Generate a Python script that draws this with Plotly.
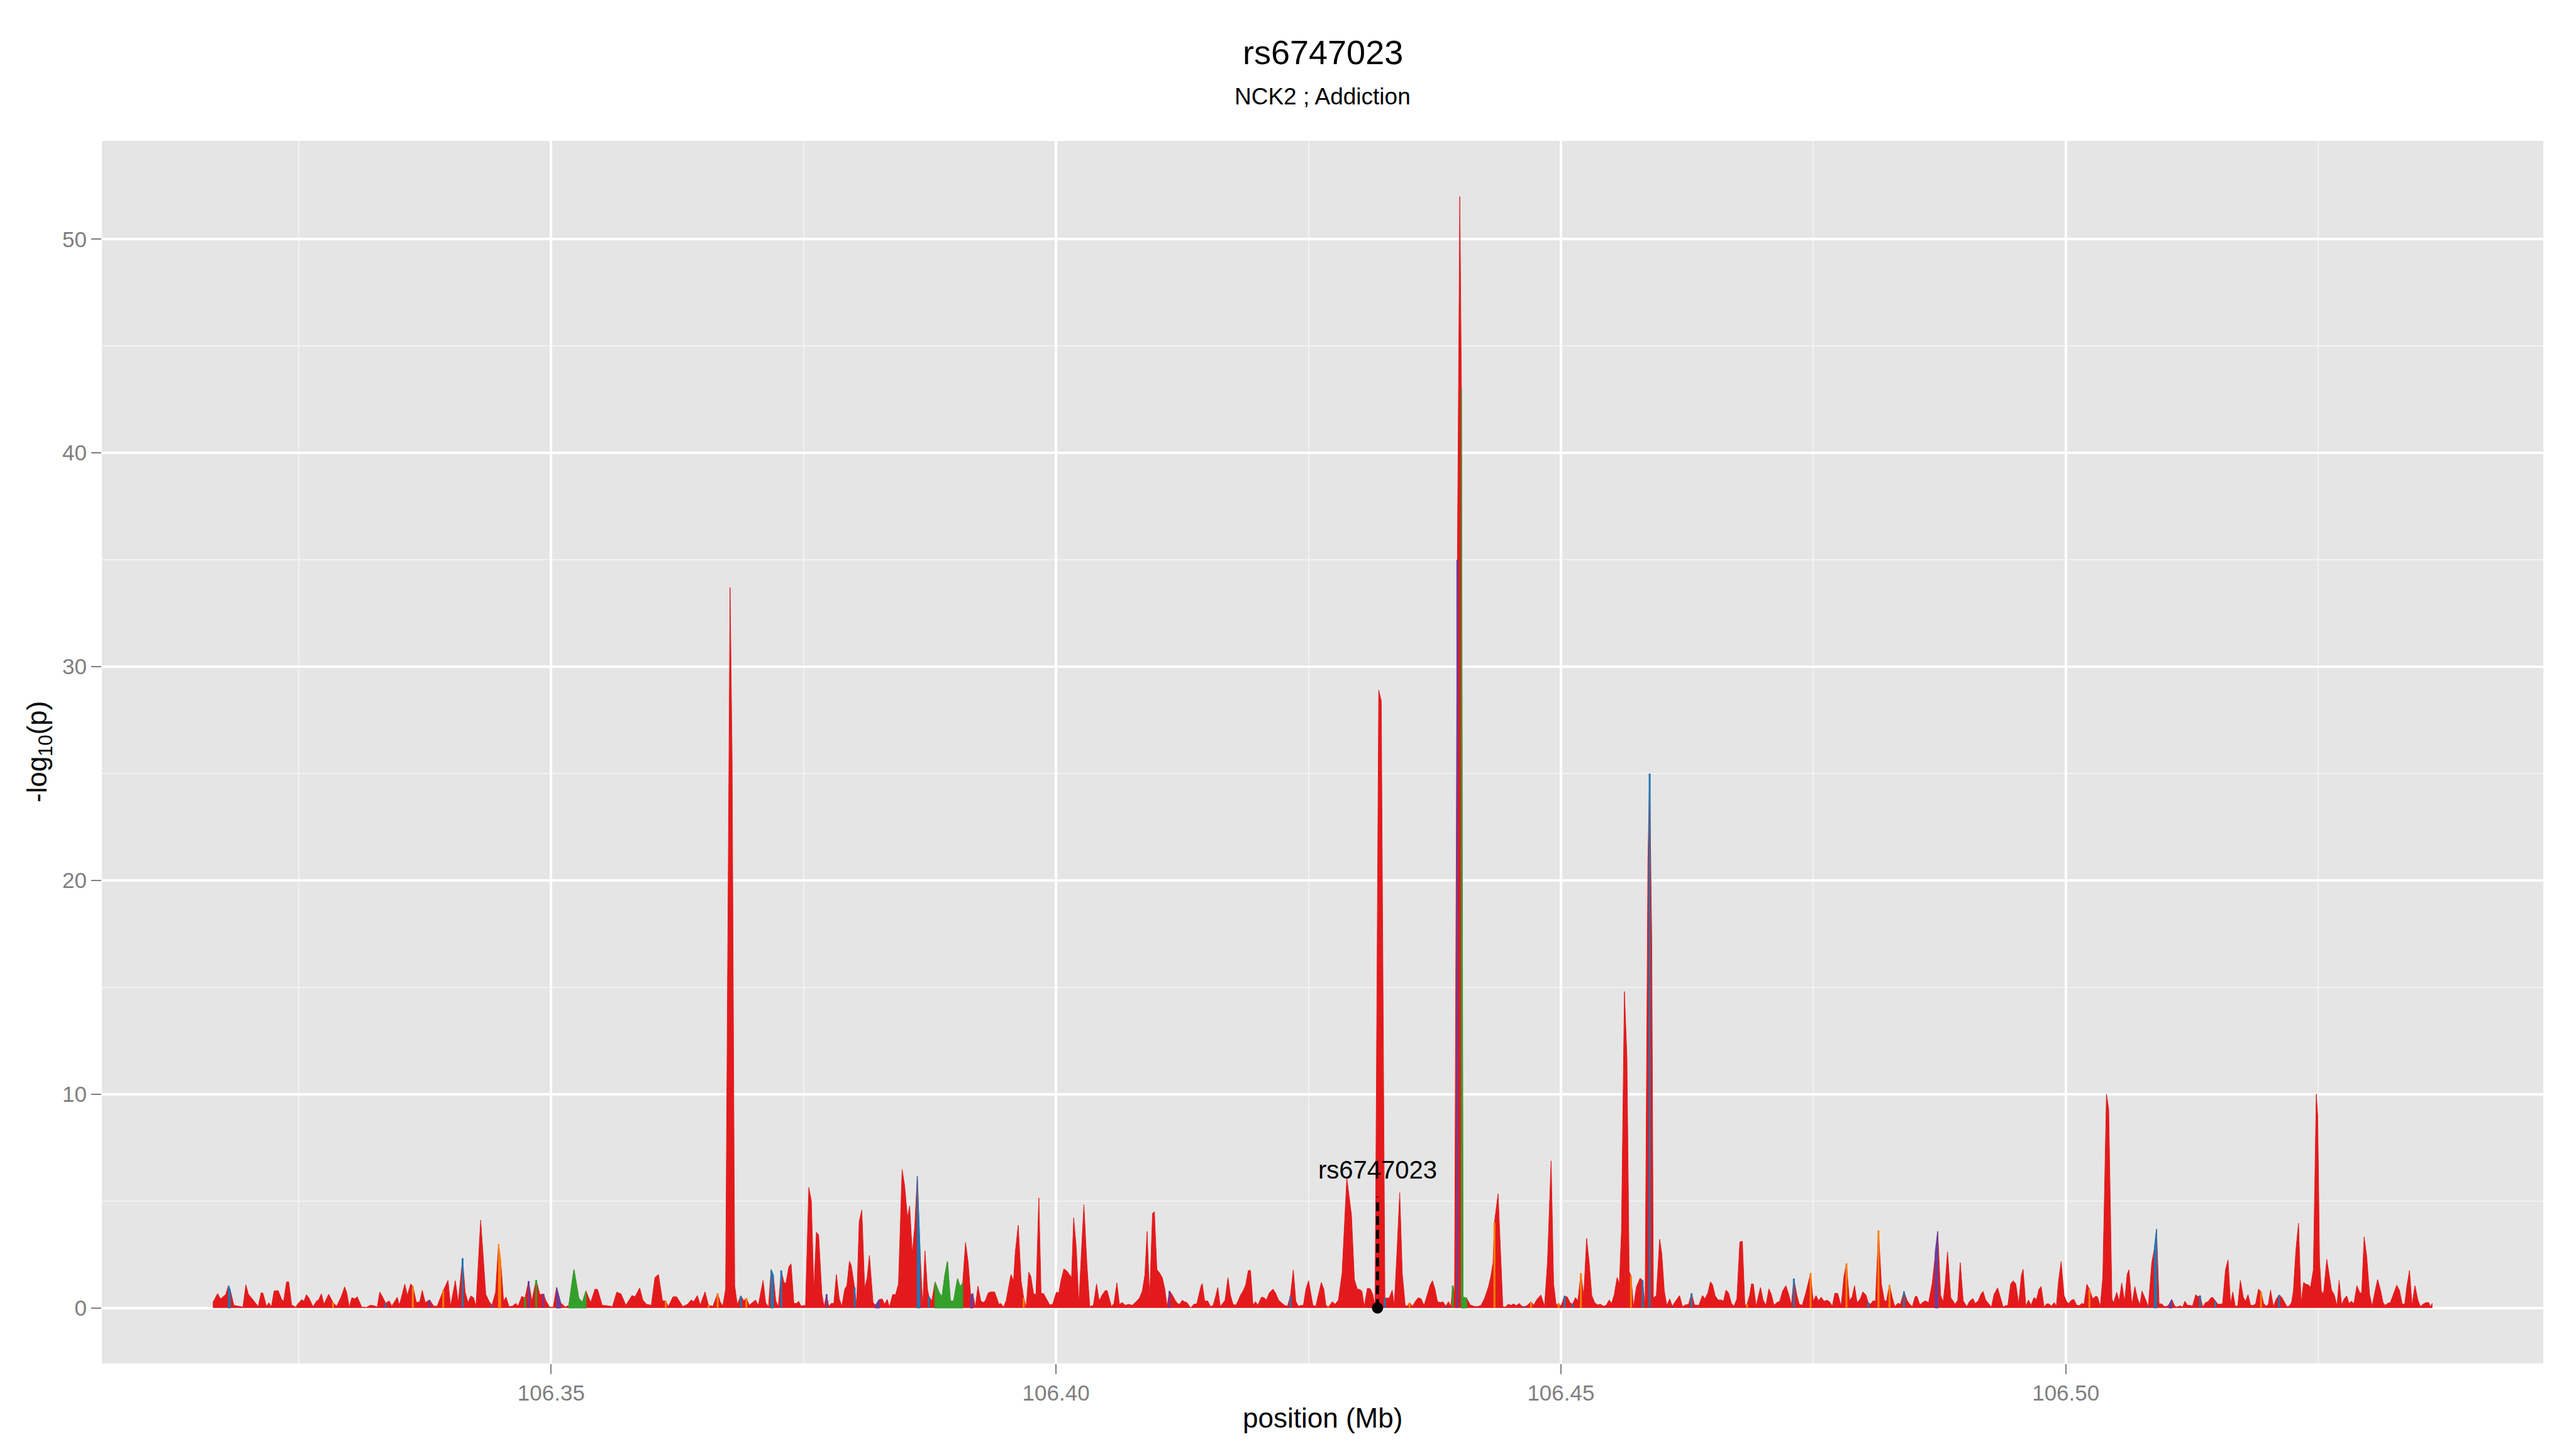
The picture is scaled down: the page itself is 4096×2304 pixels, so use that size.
import plotly.graph_objects as go

# ---------------- data ----------------
position_mb = [
    106.31650, 106.31697, 106.31726, 106.31776, 106.31805, 106.31823, 106.31858, 106.31912, 106.31948, 106.31977,
    106.32002, 106.32049, 106.32099, 106.32128, 106.32146, 106.32182, 106.32204, 106.32229, 106.32257, 106.32297,
    106.32329, 106.32351, 106.32380, 106.32401, 106.32430, 106.32469, 106.32495, 106.32531, 106.32552, 106.32577,
    106.32602, 106.32642, 106.32678, 106.32696, 106.32725, 106.32750, 106.32797, 106.32840, 106.32876, 106.32919,
    106.32955, 106.32976, 106.33001, 106.33027, 106.33055, 106.33080, 106.33124, 106.33170, 106.33206, 106.33249,
    106.33278, 106.33303, 106.33328, 106.33361, 106.33397, 106.33422, 106.33476, 106.33497, 106.33551, 106.33576,
    106.33609, 106.33630, 106.33666, 106.33699, 106.33724, 106.33753, 106.33796, 106.33839, 106.33871, 106.33932,
    106.33979, 106.34004, 106.34051, 106.34080, 106.34123, 106.34148, 106.34177, 106.34205, 106.34231, 106.34256,
    106.34302, 106.34353, 106.34385, 106.34414, 106.34450, 106.34479, 106.34500, 106.34529, 106.34554, 106.34583,
    106.34615, 106.34651, 106.34673, 106.34709, 106.34741, 106.34777, 106.34809, 106.34852, 106.34888, 106.34924,
    106.34949, 106.34985, 106.35021, 106.35054, 106.35093, 106.35140, 106.35176, 106.35226, 106.35273, 106.35309,
    106.35345, 106.35391, 106.35435, 106.35460, 106.35506, 106.35560, 106.35607, 106.35650, 106.35693, 106.35740,
    106.35801, 106.35830, 106.35877, 106.35909, 106.35945, 106.35992, 106.36028, 106.36063, 106.36103, 106.36135,
    106.36160, 106.36207, 106.36243, 106.36304, 106.36351, 106.36387, 106.36412, 106.36448, 106.36477, 106.36524,
    106.36559, 106.36603, 106.36649, 106.36674, 106.36700, 106.36728, 106.36772, 106.36792, 106.36818, 106.36843,
    106.36879, 106.36908, 106.36933, 106.36962, 106.37023, 106.37052,
    106.37099, 106.37124, 106.37153, 106.37178, 106.37200, 106.37225, 106.37250, 106.37279, 106.37304, 106.37325,
    106.37354, 106.37376, 106.37404, 106.37430, 106.37451, 106.37476, 106.37502, 106.37519, 106.37552, 106.37577,
    106.37602, 106.37627, 106.37649, 106.37681, 106.37703, 106.37728, 106.37749, 106.37775, 106.37800, 106.37825,
    106.37854, 106.37879, 106.37908, 106.37929, 106.37954, 106.37972, 106.38005, 106.38026, 106.38051, 106.38077,
    106.38105, 106.38130, 106.38152, 106.38188, 106.38213, 106.38249, 106.38278, 106.38303, 106.38328, 106.38350,
    106.38382, 106.38411, 106.38440, 106.38476, 106.38501, 106.38529, 106.38551, 106.38576, 106.38601, 106.38626,
    106.38652, 106.38680, 106.38702, 106.38727, 106.38741, 106.38770, 106.38802, 106.38842, 106.38871, 106.38900,
    106.38925, 106.38953, 106.38986, 106.39025, 106.39051, 106.39076, 106.39104, 106.39130, 106.39155, 106.39176,
    106.39201, 106.39227, 106.39255, 106.39280, 106.39302, 106.39327, 106.39352, 106.39392, 106.39435, 106.39453,
    106.39482, 106.39507, 106.39554, 106.39579, 106.39597, 106.39626, 106.39654, 106.39680, 106.39705, 106.39730,
    106.39751, 106.39777, 106.39802, 106.39830, 106.39852, 106.39877, 106.39906, 106.39938, 106.39967, 106.40003,
    106.40028, 106.40050, 106.40078, 106.40107, 106.40136, 106.40154, 106.40175, 106.40201, 106.40226, 106.40276,
    106.40305, 106.40334, 106.40370, 106.40402, 106.40427, 106.40459, 106.40488, 106.40506, 106.40549, 106.40574,
    106.40603, 106.40628, 106.40657, 106.40686, 106.40718, 106.40754, 106.40794, 106.40826, 106.40855, 106.40880,
    106.40902, 106.40927, 106.40956, 106.40974, 106.40999, 106.41028, 106.41052, 106.41078, 106.41099, 106.41124,
    106.41150, 106.41178, 106.41203, 106.41225, 106.41250, 106.41272, 106.41297, 106.41333, 106.41365, 106.41394,
    106.41437, 106.41448, 106.41473, 106.41502, 106.41530, 106.41556, 106.41581, 106.41602, 106.41627, 106.41674,
    106.41703, 106.41728, 106.41753, 106.41779, 106.41800, 106.41825, 106.41850, 106.41879, 106.41904, 106.41926,
    106.41951, 106.41976, 106.41998, 106.42034, 106.42059, 106.42084, 106.42113, 106.42149, 106.42177, 106.42203,
    106.42231, 106.42264, 106.42292, 106.42321, 106.42350, 106.42375, 106.42400, 106.42429, 106.42450, 106.42475,
    106.42501, 106.42526, 106.42544, 106.42573, 106.42601, 106.42627, 106.42652, 106.42673, 106.42695,
    106.42711, 106.42736, 106.42765, 106.42797, 106.42833, 106.42880, 106.42926, 106.42955, 106.42984, 106.43013,
    106.43030, 106.43052, 106.43084, 106.43113, 106.43138, 106.43160, 106.43196, 106.43221, 106.43257, 106.43278,
    106.43300, 106.43329, 106.43350, 106.43376, 106.43404, 106.43429, 106.43458, 106.43480, 106.43501, 106.43530,
    106.43562, 106.43588, 106.43616, 106.43645, 106.43677, 106.43706, 106.43728, 106.43753, 106.43778, 106.43807,
    106.43832, 106.43861, 106.43886, 106.43911, 106.43929, 106.43947, 106.43975, 106.43999, 106.44015, 106.44030,
    106.44066, 106.44102, 106.44137, 106.44173, 106.44209, 106.44245, 106.44281, 106.44306, 106.44328, 106.44342,
    106.44378, 106.44400, 106.44425, 106.44450, 106.44479, 106.44508, 106.44533, 106.44558, 106.44587, 106.44612,
    106.44641, 106.44669, 106.44705, 106.44730, 106.44766, 106.44802, 106.44838, 106.44867, 106.44903, 106.44928,
    106.44953, 106.44978, 106.45000, 106.45036, 106.45065, 106.45090, 106.45115, 106.45144, 106.45169, 106.45198,
    106.45226, 106.45255, 106.45280, 106.45306, 106.45334, 106.45363, 106.45392, 106.45420, 106.45449, 106.45478,
    106.45503, 106.45528, 106.45557, 106.45579, 106.45600, 106.45629, 106.45654, 106.45676, 106.45694, 106.45719,
    106.45748, 106.45784, 106.45809, 106.45834, 106.45862, 106.45879, 106.45900, 106.45916, 106.45945, 106.45978,
    106.45999, 106.46024, 106.46049, 106.46078, 106.46103, 106.46132, 106.46175, 106.46204, 106.46233, 106.46265,
    106.46294, 106.46323, 106.46366, 106.46402, 106.46427, 106.46456, 106.46481, 106.46502, 106.46527, 106.46556,
    106.46588, 106.46610, 106.46635, 106.46660, 106.46689, 106.46714, 106.46743, 106.46772, 106.46797, 106.46822,
    106.46844, 106.46869, 106.46887, 106.46905, 106.46934, 106.46959, 106.46977, 106.47002, 106.47031, 106.47060,
    106.47085, 106.47110, 106.47139, 106.47167, 106.47196, 106.47228, 106.47257, 106.47282, 106.47307, 106.47336,
    106.47361, 106.47390, 106.47426, 106.47473, 106.47498, 106.47527, 106.47552, 106.47577, 106.47606, 106.47635,
    106.47660, 106.47688, 106.47713, 106.47742, 106.47775, 106.47803, 106.47828, 106.47857, 106.47886, 106.47908,
    106.47933, 106.47965, 106.47990, 106.48019, 106.48044, 106.48066, 106.48091, 106.48116, 106.48145, 106.48174,
    106.48204, 106.48225, 106.48254, 106.48283, 106.48308, 106.48337, 106.48362, 106.48398, 106.48427, 106.48455,
    106.48480, 106.48509, 106.48527, 106.48556, 106.48581, 106.48606, 106.48642, 106.48678, 106.48707, 106.48732,
    106.48761, 106.48786, 106.48807, 106.48829, 106.48861, 106.48887, 106.48905, 106.48930, 106.48955, 106.48984,
    106.49020, 106.49048, 106.49081, 106.49102, 106.49131, 106.49163, 106.49181, 106.49206, 106.49235, 106.49264,
    106.49289, 106.49325, 106.49354, 106.49379, 106.49404, 106.49426, 106.49454, 106.49480, 106.49505, 106.49534,
    106.49559, 106.49577, 106.49605, 106.49631, 106.49656, 106.49685, 106.49710, 106.49735, 106.49756, 106.49785,
    106.49810, 106.49835, 106.49857, 106.49886, 106.49907, 106.49929, 106.49954, 106.49983, 106.50008, 106.50029,
    106.50055, 106.50080, 106.50109, 106.50134, 106.50159, 106.50181, 106.50209, 106.50234, 106.50267, 106.50295,
    106.50313, 106.50342, 106.50367, 106.50403, 106.50425, 106.50457, 106.50475, 106.50504, 106.50529, 106.50554,
    106.50583, 106.50608, 106.50626, 106.50655, 106.50684, 106.50709, 106.50734, 106.50755, 106.50784, 106.50817,
    106.50852, 106.50878, 106.50899, 106.50924, 106.50950, 106.50978, 106.51003, 106.51025, 106.51050, 106.51079,
    106.51104, 106.51129, 106.51158, 106.51180, 106.51205, 106.51230, 106.51255, 106.51287, 106.51309, 106.51330,
    106.51356, 106.51384, 106.51410, 106.51435, 106.51453, 106.51481, 106.51507, 106.51535, 106.51553, 106.51582,
    106.51607, 106.51632, 106.51654, 106.51679, 106.51704, 106.51729, 106.51758, 106.51780, 106.51805, 106.51830,
    106.51859, 106.51880, 106.51909, 106.51934, 106.51959, 106.51985, 106.52006, 106.52028, 106.52056, 106.52085,
    106.52114, 106.52139, 106.52164, 106.52190, 106.52211, 106.52236, 106.52254, 106.52279, 106.52305, 106.52330,
    106.52355, 106.52380, 106.52402, 106.52423, 106.52452, 106.52481, 106.52495, 106.52513, 106.52531, 106.52552,
    106.52585, 106.52606, 106.52632, 106.52657, 106.52686, 106.52707, 106.52732, 106.52757, 106.52783, 106.52804,
    106.52829, 106.52854, 106.52883, 106.52908, 106.52930, 106.52955, 106.52980, 106.53009, 106.53034, 106.53056,
    106.53088, 106.53117, 106.53142, 106.53163, 106.53189, 106.53214, 106.53243, 106.53278, 106.53304, 106.53332,
    106.53357, 106.53379, 106.53404, 106.53429, 106.53458, 106.53487, 106.53512, 106.53537, 106.53566, 106.53595,
    106.53609, 106.53631,
]

neg_log10_p = [
    0.25, 0.67, 0.42, 0.62, 1.04, 0.83, 0.12, 0.08, 0.04, 1.08,
    0.64, 0.37, 0.06, 0.71, 0.69, 0.06, 0.25, 0.04, 0.79, 0.81,
    0.42, 0.31, 1.22, 1.22, 0.14, 0.04, 0.21, 0.39, 0.31, 0.62,
    0.46, 0.06, 0.33, 0.36, 0.66, 0.17, 0.64, 0.25, 0.08, 0.50,
    0.98, 0.71, 0.04, 0.48, 0.42, 0.52, 0.04, 0.02, 0.12, 0.10,
    0.04, 0.74, 0.54, 0.22, 0.33, 0.08, 0.50, 0.12, 1.11, 0.58,
    1.12, 1.02, 0.25, 0.29, 0.82, 0.25, 0.37, 0.08, 0.08, 0.81,
    1.29, 0.08, 1.27, 0.25, 2.32, 0.75, 0.25, 0.56, 0.48, 0.08,
    4.11, 0.64, 0.31, 0.12, 0.73, 2.98, 2.21, 0.33, 0.50, 0.06,
    0.08, 0.21, 0.08, 0.54, 0.46, 1.25, 0.33, 1.31, 0.62, 0.65,
    0.33, 0.04, 0.04, 0.96, 0.25, 0.04, 0.12, 1.79, 0.46, 0.25,
    0.79, 0.25, 0.88, 0.86, 0.12, 0.10, 0.06, 0.74, 0.65, 0.12,
    0.58, 0.52, 0.93, 0.36, 0.17, 0.12, 1.42, 1.56, 0.33, 0.33,
    0.06, 0.52, 0.52, 0.06, 0.17, 0.37, 0.29, 0.58, 0.14, 0.75,
    0.11, 0.08, 0.68, 0.29, 0.08, 0.88, 33.7, 25.8, 1.04, 0.17,
    0.56, 0.33, 0.46, 0.12, 0.37, 0.12,
    1.29, 0.25, 0.04, 1.79, 1.54, 0.33, 0.06, 1.75, 1.21, 1.14,
    1.92, 2.06, 0.21, 0.21, 0.31, 0.08, 0.12, 0.08, 5.63, 5.00,
    0.75, 3.54, 3.42, 0.67, 0.06, 0.64, 0.08, 0.21, 0.21, 1.56,
    0.42, 0.08, 0.88, 1.04, 2.18, 2.00, 0.96, 0.12, 4.04, 4.58,
    0.92, 1.42, 2.46, 0.25, 0.12, 0.39, 0.42, 0.17, 0.40, 0.04,
    0.62, 0.62, 1.12, 6.48, 5.71, 4.21, 4.77, 2.54, 3.79, 6.17,
    2.79, 0.04, 2.67, 0.88, 0.54, 0.33, 1.21, 0.71, 0.50, 1.54,
    2.17, 0.33, 0.31, 1.36, 0.97, 1.17, 3.06, 2.12, 0.58, 0.67,
    0.04, 1.02, 0.33, 0.25, 0.36, 0.69, 0.75, 0.75, 0.17, 0.21,
    0.04, 0.36, 1.56, 1.25, 2.62, 3.87, 1.29, 0.46, 0.04, 1.67,
    1.47, 0.67, 0.62, 5.15, 0.67, 0.67, 0.42, 0.14, 0.17, 0.73,
    0.71, 1.29, 1.83, 1.73, 1.54, 1.42, 4.21, 2.79, 0.21, 4.83,
    2.12, 0.06, 0.12, 1.12, 0.33, 0.62, 0.81, 0.81, 0.06, 0.21,
    1.17, 0.17, 0.25, 0.12, 0.17, 0.12, 0.29, 0.46, 0.79, 1.54,
    3.58, 0.46, 4.42, 4.50, 1.79, 1.62, 1.42, 0.88, 0.06, 0.79,
    0.62, 0.37, 0.21, 0.17, 0.36, 0.29, 0.25, 0.00, 0.17, 0.19,
    1.04, 1.14, 0.31, 0.33, 0.06, 0.12, 0.54, 0.96, 0.06, 0.36,
    1.42, 0.58, 0.17, 0.12, 0.29, 0.58, 0.77, 1.08, 1.75, 1.75,
    0.12, 0.29, 0.12, 0.50, 0.48, 0.37, 0.71, 0.88, 0.67, 0.37,
    0.25, 0.12, 0.08, 0.54, 1.78, 0.31, 0.08, 0.12, 0.12, 0.88,
    1.27, 0.62, 0.12, 0.08, 0.71, 1.19, 0.88, 0.12, 0.06,
    0.12, 0.29, 0.17, 0.37, 1.62, 6.08, 4.33, 1.33, 0.88, 0.86,
    0.77, 0.06, 0.92, 0.89, 0.62, 0.08, 28.9, 28.4, 0.46, 0.46,
    0.46, 0.83, 0.12, 2.54, 5.39, 1.62, 0.12, 0.08, 0.25, 0.08,
    0.33, 0.48, 0.42, 0.11, 0.62, 1.08, 1.27, 0.88, 0.29, 0.25,
    0.29, 0.08, 0.29, 0.08, 1.04, 0.71, 35.0, 52.0, 43.0, 0.50,
    0.46, 0.14, 0.08, 0.06, 0.12, 0.46, 0.96, 1.46, 2.12, 4.00,
    5.33, 2.62, 0.06, 0.04, 0.17, 0.12, 0.19, 0.10, 0.21, 0.08,
    0.06, 0.12, 0.29, 0.12, 0.42, 0.60, 0.08, 2.12, 6.88, 1.12,
    0.12, 0.21, 0.08, 0.56, 0.50, 0.25, 0.17, 0.48, 0.33, 1.62,
    0.54, 3.25, 2.12, 0.58, 0.25, 0.14, 0.17, 0.08, 0.12, 0.37,
    0.21, 0.62, 1.42, 1.12, 3.60, 14.8, 11.7, 1.70, 1.50, 0.04,
    0.98, 1.39, 1.29, 0.08, 21.0, 25.0, 17.0, 0.46, 0.58, 3.21,
    2.54, 0.79, 0.12, 0.42, 0.08, 0.29, 0.58, 0.06, 0.14, 0.17,
    0.68, 0.14, 0.12, 0.58, 0.42, 0.71, 1.22, 1.08, 0.58, 0.37,
    0.37, 0.31, 0.83, 0.71, 0.21, 0.08, 0.42, 3.08, 3.12, 0.12,
    0.17, 0.58, 1.12, 1.12, 0.08, 0.62, 0.96, 0.37, 0.12, 0.89,
    0.62, 0.12, 0.25, 0.31, 0.79, 1.04, 0.62, 0.12, 1.37, 0.62,
    0.17, 0.12, 0.71, 1.62, 0.31, 0.58, 0.33, 0.50, 0.31, 0.36,
    0.29, 0.08, 0.69, 0.67, 0.08, 1.46, 2.08, 0.33, 0.54, 1.04,
    0.25, 0.42, 0.75, 0.62, 0.25, 0.17, 0.33, 0.33, 3.62, 1.12,
    0.33, 0.33, 1.08, 0.46, 0.06, 0.22, 0.17, 0.77, 0.36, 0.17,
    0.06, 0.53, 0.53, 0.14, 0.25, 0.33, 0.25, 1.17, 2.58, 3.58,
    0.58, 0.29, 1.21, 2.62, 0.48, 0.29, 0.17, 0.36, 2.12, 0.33,
    0.06, 0.31, 0.44, 0.21, 0.31, 0.67, 0.77, 0.37, 0.21, 0.04,
    0.62, 0.94, 0.46, 0.04, 0.11, 0.11, 1.12, 1.27, 1.12, 0.19,
    1.50, 1.81, 0.08, 0.37, 0.12, 0.48, 0.39, 0.88, 1.00, 0.04,
    0.19, 0.19, 0.08, 0.25, 0.08, 1.29, 2.17, 0.58, 0.29, 0.21,
    0.36, 0.40, 0.12, 0.11, 0.21, 0.17, 1.11, 0.88, 0.42, 0.54,
    0.52, 0.08, 1.46, 10.0, 9.3, 0.40, 0.25, 0.73, 0.33, 1.17,
    0.29, 1.58, 1.78, 0.12, 1.00, 0.46, 0.14, 0.79, 0.46, 0.06,
    2.12, 2.79, 3.68, 0.19, 0.19, 0.06, 0.08, 0.17, 0.39, 0.08,
    0.04, 0.10, 0.04, 0.31, 0.12, 0.12, 0.08, 0.62, 0.52, 0.58,
    0.04, 0.25, 0.29, 0.46, 0.50, 0.31, 0.17, 0.17, 0.21, 1.79,
    2.25, 0.17, 0.75, 0.06, 0.12, 1.29, 0.50, 0.31, 0.62, 0.12,
    0.12, 0.19, 0.88, 0.75, 0.21, 0.08, 0.17, 0.83, 0.06, 0.42,
    0.61, 0.50, 0.29, 0.06, 0.08, 0.25, 0.79, 2.71, 3.96, 0.21,
    1.19, 1.11, 1.08, 0.96, 1.79, 10.0, 9.0, 2.20, 0.79, 0.64,
    2.27, 1.62, 0.83, 0.64, 0.10, 1.29, 0.14, 0.42, 0.56, 0.21,
    0.31, 0.21, 1.04, 0.75, 0.67, 3.32, 2.42, 0.62, 0.08, 0.62,
    1.33, 0.83, 0.25, 0.12, 0.22, 0.25, 0.62, 1.06, 0.83, 0.18,
    0.18, 1.04, 1.75, 0.12, 1.04, 0.37, 0.06, 0.17, 0.25, 0.25,
    0.06, 0.22,
]

# SNPs whose fill is not the default (red) category
blue_positions = [
    106.31805, 106.31823, 106.33361, 106.34123, 106.34414, 106.36879, 106.37178, 106.37200,
    106.37279, 106.38005, 106.38626, 106.38652, 106.38741, 106.42321, 106.43257, 106.44641,
    106.45036, 106.45115, 106.45809, 106.45879, 106.46294, 106.47307, 106.48044, 106.48398,
    106.50817, 106.50878, 106.50899, 106.51330, 106.51481, 106.52114,
]
green_positions = [
    106.34741, 106.34852, 106.34985, 106.35176, 106.35226, 106.35273, 106.35309, 106.35345,
    106.38802, 106.38842, 106.38871, 106.38900, 106.38925, 106.38953, 106.38986, 106.39025,
    106.39051, 106.39076, 106.43929, 106.44015, 106.44030, 106.44066,
]
purple_positions = [
    106.33796, 106.34777, 106.34924, 106.35054, 106.35093, 106.37728, 106.38213, 106.38249,
    106.39155, 106.39176, 106.41124, 106.43861, 106.43975, 106.46103, 106.48707, 106.48732,
    106.51025, 106.51050,
]
orange_positions = [
    106.32469, 106.32840, 106.33630, 106.33932, 106.34479, 106.34500, 106.36135, 106.36559,
    106.36649, 106.36933, 106.39680, 106.42695, 106.43501, 106.44342, 106.44705, 106.44978,
    106.45198, 106.45694, 106.46844, 106.47473, 106.47828, 106.48145, 106.48254, 106.50234,
    106.51934,
]

snp_name = "rs6747023"
snp_position = 106.43184
snp_segment_top = 5.2
snp_label_y = 6.45

title_text = "rs6747023"
subtitle_text = "NCK2 ; Addiction"
x_title = "position (Mb)"
y_title = "-log<sub>10</sub>(p)"
x_tick_values = [106.35, 106.40, 106.45, 106.50]
x_tick_labels = ["106.35", "106.40", "106.45", "106.50"]
x_minor_values = [106.325, 106.375, 106.425, 106.475, 106.525]
y_tick_values = [0, 10, 20, 30, 40, 50]
y_minor_values = [5, 15, 25, 35, 45]

assert len(position_mb) == len(neg_log10_p)

# ---------------- styling ----------------
FONT = "Liberation Sans, Arial, Helvetica, sans-serif"
COLORS = {"r": "#E31A1C", "b": "#1F78B4", "g": "#33A02C", "p": "#6A3D9A", "o": "#FF7F00"}

lookup = {}
for code, plist in (("b", blue_positions), ("g", green_positions),
                    ("p", purple_positions), ("o", orange_positions)):
    for p in plist:
        lookup[round(p, 5)] = code
category = [lookup.get(round(p, 5), "r") for p in position_mb]

fig = go.Figure()

# main (red) area
fig.add_trace(go.Scatter(
    x=position_mb, y=neg_log10_p, mode="lines", fill="tozeroy",
    fillcolor=COLORS["r"], line=dict(color=COLORS["r"], width=1),
    hoverinfo="skip", showlegend=False,
))

n = len(position_mb)
for code in "bgpo":
    poly_x, poly_y, single_x, single_y = [], [], [], []
    i = 0
    while i < n:
        if category[i] == code:
            j = i
            while j + 1 < n and category[j + 1] == code:
                j += 1
            if j > i:
                xs = position_mb[i:j + 1]
                ys = neg_log10_p[i:j + 1]
                poly_x += xs + [xs[-1], xs[0], xs[0], None]
                poly_y += ys + [0, 0, ys[0], None]
            else:
                single_x += [position_mb[i], position_mb[i], None]
                single_y += [0, neg_log10_p[i], None]
            i = j + 1
        else:
            i += 1
    if poly_x:
        fig.add_trace(go.Scatter(
            x=poly_x, y=poly_y, mode="lines", fill="toself",
            fillcolor=COLORS[code], line=dict(color=COLORS[code], width=1.5),
            hoverinfo="skip", showlegend=False,
        ))
    if single_x:
        fig.add_trace(go.Scatter(
            x=single_x, y=single_y, mode="lines",
            line=dict(color=COLORS[code], width=3),
            hoverinfo="skip", showlegend=False,
        ))

# SNP marker: dashed segment + point
fig.add_trace(go.Scatter(
    x=[snp_position, snp_position], y=[0, snp_segment_top], mode="lines",
    line=dict(color="black", width=5, dash="14px,8px"),
    hoverinfo="skip", showlegend=False,
))
fig.add_trace(go.Scatter(
    x=[snp_position], y=[0], mode="markers",
    marker=dict(color="black", size=18),
    hoverinfo="skip", showlegend=False,
))

W, H = 4096, 2304
ML, MR, MT, MB = 162, 52, 224, 136
PH = H - MT - MB

def py(px_from_top):
    return (H - MB - px_from_top) / PH

annotations = [
    dict(text=title_text, x=0.5, xref="paper", y=py(83), yref="paper",
         xanchor="center", yanchor="middle", showarrow=False,
         font=dict(family=FONT, size=54, color="black")),
    dict(text=subtitle_text, x=0.5, xref="paper", y=py(153), yref="paper",
         xanchor="center", yanchor="middle", showarrow=False,
         font=dict(family=FONT, size=37, color="black")),
    dict(text=x_title, x=0.5, xref="paper", y=py(2254), yref="paper",
         xanchor="center", yanchor="middle", showarrow=False,
         font=dict(family=FONT, size=44, color="black")),
    dict(text=y_title, x=0, xref="paper", xshift=-(ML - 62), y=0.5, yref="paper",
         xanchor="center", yanchor="middle", showarrow=False, textangle=-90,
         font=dict(family=FONT, size=44, color="black")),
    dict(text=snp_name, x=snp_position, y=snp_label_y, xref="x", yref="y",
         xanchor="center", yanchor="middle", showarrow=False,
         font=dict(family=FONT, size=40, color="black")),
]

axis_common = dict(
    showline=False, zeroline=False, showgrid=True,
    gridcolor="white", gridwidth=4,
    ticks="outside", ticklen=16, tickwidth=2, tickcolor="#7F7F7F",
    tickfont=dict(family=FONT, size=35, color="#7F7F7F"),
)

fig.update_layout(
    width=W, height=H,
    margin=dict(l=ML, r=MR, t=MT, b=MB, pad=0, autoexpand=False),
    paper_bgcolor="white", plot_bgcolor="#E5E5E5",
    font=dict(family=FONT),
    showlegend=False, hovermode=False,
    annotations=annotations,
    xaxis=dict(range=[106.30551, 106.54729], tickmode="array",
               tickvals=x_tick_values, ticktext=x_tick_labels,
               minor=dict(tickmode="array", tickvals=x_minor_values, showgrid=True,
                          gridcolor="#F2F2F2", gridwidth=2, ticks=""),
               **axis_common),
    yaxis=dict(range=[-2.6, 54.6], tickmode="array", tickvals=y_tick_values,
               minor=dict(tickmode="array", tickvals=y_minor_values, showgrid=True,
                          gridcolor="#F2F2F2", gridwidth=2, ticks=""),
               **axis_common),
)

fig.write_html(
    "out.html",
    config={"displayModeBar": False},
    post_script="document.body.style.margin='0px';document.body.style.overflow='hidden';",
)
